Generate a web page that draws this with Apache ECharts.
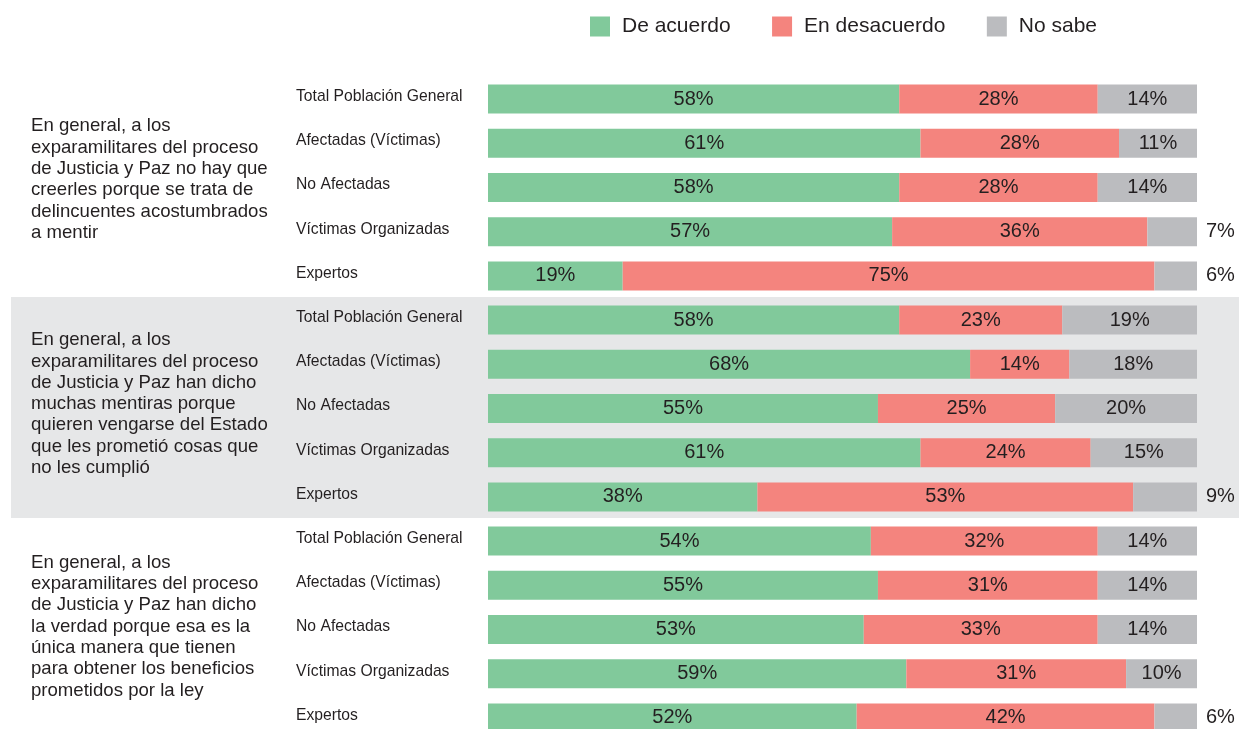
<!DOCTYPE html>
<html>
<head>
<meta charset="utf-8">
<script src="https://cdn.jsdelivr.net/npm/echarts@6/dist/echarts.min.js"></script>
<style>
html,body{margin:0;padding:0;background:#fff;overflow:hidden;}
#chart{width:1239px;height:745px;}
</style>
</head>
<body>
<div id="chart"></div>
<script>
var rowLabels = [
  "Total Población General","Afectadas (Víctimas)","No Afectadas","Víctimas Organizadas","Expertos",
  "Total Población General","Afectadas (Víctimas)","No Afectadas","Víctimas Organizadas","Expertos",
  "Total Población General","Afectadas (Víctimas)","No Afectadas","Víctimas Organizadas","Expertos"
];
var seriesNames = ["De acuerdo","En desacuerdo","No sabe"];
var deAcuerdo    = [58,61,58,57,19, 58,68,55,61,38, 54,55,53,59,52];
var enDesacuerdo = [28,28,28,36,75, 23,14,25,24,53, 32,31,33,31,42];
var noSabe       = [14,11,14,7,6,   19,18,20,15,9,  14,14,14,10,6];
var questions = [
  ["En general, a los","exparamilitares del proceso","de Justicia y Paz no hay que","creerles porque se trata de","delincuentes acostumbrados","a mentir"],
  ["En general, a los","exparamilitares del proceso","de Justicia y Paz han dicho","muchas mentiras porque","quieren vengarse del Estado","que les prometió cosas que","no les cumplió"],
  ["En general, a los","exparamilitares del proceso","de Justicia y Paz han dicho","la verdad porque esa es la","única manera que tienen","para obtener los beneficios","prometidos por la ley"]
];
var colors = ["#81C99B","#F4847E","#BBBCBF"];

var FONT = "'Liberation Sans', Arial, Helvetica, sans-serif";
var TXT = "#231F20";

function labelFor(v){
  if (v < 10) {
    return {value:v, label:{position:'right', distance:9}};
  }
  return v;
}

var chart = echarts.init(document.getElementById('chart'));
var option = {
  animation:false,
  backgroundColor:'#ffffff',
  textStyle:{fontFamily:FONT},
  legend:{
    data:seriesNames,
    left:590, top:16, padding:0,
    itemWidth:20, itemHeight:20, itemGap:41.5,
    icon:'rect',
    textStyle:{fontSize:21, color:TXT, fontFamily:FONT, padding:[0,0,0,7]}
  },
  grid:{left:488, width:709, top:77, height:663, containLabel:false},
  xAxis:{type:'value', min:0, max:100, show:false},
  yAxis:{
    type:'category', inverse:true, data:rowLabels,
    axisLine:{show:false}, axisTick:{show:false}, splitLine:{show:false},
    axisLabel:{align:'left', verticalAlign:'bottom', lineHeight:5, margin:192, fontSize:15.7, color:TXT, fontFamily:FONT}
  },
  graphic:[],
  series:[
    {name:seriesNames[0], type:'bar', stack:'s', barWidth:29, data:deAcuerdo,
     itemStyle:{color:colors[0]},
     label:{show:true, position:'inside', formatter:'{c}%', fontSize:20, color:TXT, fontFamily:FONT}},
    {name:seriesNames[1], type:'bar', stack:'s', barWidth:29, data:enDesacuerdo,
     itemStyle:{color:colors[1]},
     label:{show:true, position:'inside', formatter:'{c}%', fontSize:20, color:TXT, fontFamily:FONT}},
    {name:seriesNames[2], type:'bar', stack:'s', barWidth:29, data:noSabe.map(labelFor),
     itemStyle:{color:colors[2]},
     label:{show:true, position:'inside', formatter:'{c}%', fontSize:20, color:TXT, fontFamily:FONT}}
  ]
};
chart.setOption(option);

// background band and question texts positioned from the category axis
var c5 = chart.convertToPixel({yAxisIndex:0}, 5);
var c9 = chart.convertToPixel({yAxisIndex:0}, 9);
var step = (c9 - c5)/4;
var graphics = [{
  type:'rect', z:-10, silent:true,
  shape:{x:11, y:c5 - step/2 - 1, width:1228, height:(c9 - c5) + step},
  style:{fill:'#E6E7E8'}
}];
var lineH = 21.3;
var shifts = [-8, -4.5, -3];
for (var g=0; g<3; g++){
  var a = chart.convertToPixel({yAxisIndex:0}, g*5);
  var b = chart.convertToPixel({yAxisIndex:0}, g*5+4);
  var mid = (a+b)/2 + shifts[g];
  var n = questions[g].length;
  graphics.push({
    type:'text', left:31, top: mid - n*lineH/2, z:5, silent:true,
    style:{text:questions[g].join('\n'), font:'18.6px ' + FONT, fill:TXT, lineHeight:lineH}
  });
}
chart.setOption({graphic:graphics});
</script>
</body>
</html>
